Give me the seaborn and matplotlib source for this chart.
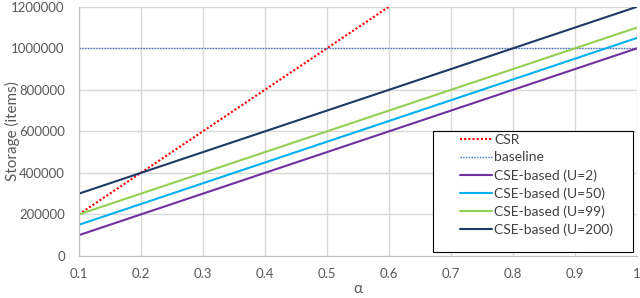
import numpy as np
import pandas as pd
import matplotlib
matplotlib.use("Agg")
import matplotlib.pyplot as plt
from matplotlib.patches import Rectangle
import seaborn as sns

# values
alpha = [0.1, 0.2, 0.3, 0.4, 0.5, 0.6, 0.7, 0.8, 0.9, 1.0]
csr = [200000, 400000, 600000, 800000, 1000000, 1200000, 1400000, 1600000, 1800000, 2000000]
baseline = [1000000] * 10
cse_u2 = [100000, 200000, 300000, 400000, 500000, 600000, 700000, 800000, 900000, 1000000]
cse_u50 = [150000, 250000, 350000, 450000, 550000, 650000, 750000, 850000, 950000, 1050000]
cse_u99 = [200000, 300000, 400000, 500000, 600000, 700000, 800000, 900000, 1000000, 1100000]
cse_u200 = [300000, 400000, 500000, 600000, 700000, 800000, 900000, 1000000, 1100000, 1200000]

series = [
    ("CSR", csr, "#FF0000", (0, (1, 1)), 1.5),
    ("baseline", baseline, "#4472C4", (0, (1, 1)), 1.0),
    ("CSE-based (U=2)", cse_u2, "#7030A0", "-", 1.5),
    ("CSE-based (U=50)", cse_u50, "#00B0F0", "-", 1.5),
    ("CSE-based (U=99)", cse_u99, "#92D050", "-", 1.5),
    ("CSE-based (U=200)", cse_u200, "#1F3864", "-", 1.5),
]

sns.set_style("white")
plt.rcParams['font.family'] = ['Lato', 'DejaVu Sans']

fig = plt.figure(figsize=(6.4, 2.98), dpi=100)
ax = fig.add_axes([0.123, 0.141, 0.872, 0.836])

for name, vals, col, ls, lw in series:
    df = pd.DataFrame({'alpha': alpha, 'val': vals})
    sns.lineplot(data=df, x='alpha', y='val', ax=ax, color=col, linestyle=ls,
                 linewidth=lw, label=name)

ax.set_xlim(0.1, 1.0)
ax.set_ylim(0, 1200000)
ax.set_xticks(np.arange(0.1, 1.01, 0.1))
ax.set_xticklabels([f"{v:g}" for v in np.round(np.arange(0.1, 1.01, 0.1), 1)])
ax.set_yticks(range(0, 1200001, 200000))
ax.set_yticklabels([str(v) for v in range(0, 1200001, 200000)])
ax.grid(True, color='#D9D9D9', linewidth=1)
ax.tick_params(axis='both', colors='#595959', labelsize=9.5, length=0)
ax.tick_params(axis='y', pad=10)
ax.tick_params(axis='x', pad=9)
for s in ['top', 'right']:
    ax.spines[s].set_visible(False)
for s in ['left', 'bottom']:
    ax.spines[s].set_color('#BFBFBF')
ax.set_xlabel('α', color='#595959', fontsize=11, labelpad=1)
ax.set_ylabel('Storage (items)', color='#595959', fontsize=11)
ax.yaxis.set_label_coords(-0.106, 0.5)

# legend box drawn separately so the entries can sit inset like the original
box = Rectangle((0.634, 0.016), 0.359, 0.486, transform=ax.transAxes,
                facecolor='white', edgecolor='black', linewidth=0.8, zorder=4)
ax.add_patch(box)
leg = ax.legend(loc='upper left', bbox_to_anchor=(0.683, 0.49), fontsize=10,
                frameon=False, handlelength=2.3, borderpad=0,
                labelspacing=0.4, handletextpad=0.15, borderaxespad=0)
leg.set_zorder(5)
for t in leg.get_texts():
    t.set_color('#404040')

fig.savefig('out.png', dpi=100)
